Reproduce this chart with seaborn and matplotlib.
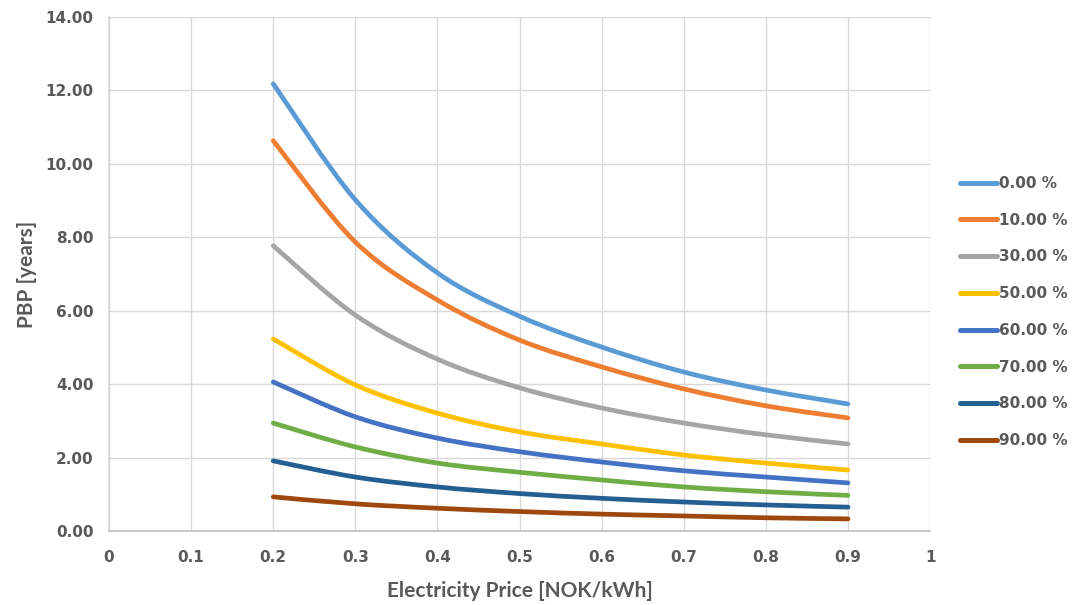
import numpy as np
import pandas as pd
import matplotlib
matplotlib.use("Agg")
import matplotlib.pyplot as plt
from matplotlib.path import Path
from matplotlib.patches import PathPatch
import seaborn as sns

# Electricity price [NOK/kWh]
price = [0.2, 0.3, 0.4, 0.5, 0.6, 0.7, 0.8, 0.9]

# Payback period [years] for each subsidy level
pbp_0 = [12.18, 9.02, 7.03, 5.85, 5.01, 4.33, 3.84, 3.46]
pbp_10 = [10.63, 7.87, 6.29, 5.20, 4.47, 3.87, 3.41, 3.08]
pbp_30 = [7.77, 5.88, 4.68, 3.90, 3.35, 2.94, 2.62, 2.37]
pbp_50 = [5.23, 3.98, 3.21, 2.70, 2.37, 2.07, 1.85, 1.66]
pbp_60 = [4.06, 3.11, 2.53, 2.16, 1.88, 1.64, 1.47, 1.31]
pbp_70 = [2.94, 2.29, 1.85, 1.60, 1.39, 1.20, 1.07, 0.97]
pbp_80 = [1.91, 1.47, 1.20, 1.02, 0.89, 0.79, 0.71, 0.65]
pbp_90 = [0.93, 0.74, 0.62, 0.53, 0.46, 0.41, 0.36, 0.33]

labels = ["0.00 %", "10.00 %", "30.00 %", "50.00 %", "60.00 %", "70.00 %", "80.00 %", "90.00 %"]
series = [pbp_0, pbp_10, pbp_30, pbp_50, pbp_60, pbp_70, pbp_80, pbp_90]
colors = ["#5B9BD5", "#ED7D31", "#A5A5A5", "#FFC000", "#4472C4", "#70AD47", "#255E91", "#9E480E"]

x_ticks = [0, 0.1, 0.2, 0.3, 0.4, 0.5, 0.6, 0.7, 0.8, 0.9, 1]
x_tick_labels = ["0", "0.1", "0.2", "0.3", "0.4", "0.5", "0.6", "0.7", "0.8", "0.9", "1"]
y_ticks = [0, 2, 4, 6, 8, 10, 12, 14]

df = pd.DataFrame({
    "price": np.tile(price, len(series)),
    "pbp": np.concatenate(series),
    "subsidy": np.repeat(labels, len(price)),
})

sns.set_theme(style="white")
plt.rcParams["font.family"] = ["DejaVu Sans"]
text_color = "#595959"
label_font = ["Lato", "DejaVu Sans"]
line_width = 3.4

fig = plt.figure(figsize=(10.74, 6.05), dpi=100)
ax = fig.add_axes([0.1015, 0.1223, 0.7645, 0.8497])

sns.lineplot(data=df, x="price", y="pbp", hue="subsidy", hue_order=labels,
             palette=colors, linewidth=line_width, ax=ax, legend=True)


def smooth_path(xs, ys):
    """Bezier path through the points, with Catmull-Rom style tangents."""
    pts = np.column_stack([xs, ys])
    n = len(pts)
    verts = [pts[0]]
    codes = [Path.MOVETO]
    for i in range(n - 1):
        p0 = pts[i - 1] if i > 0 else pts[i]
        p1 = pts[i]
        p2 = pts[i + 1]
        p3 = pts[i + 2] if i + 2 < n else pts[i + 1]
        c1 = p1 + (p2 - p0) / 6.0
        c2 = p2 - (p3 - p1) / 6.0
        verts += [c1, c2, p2]
        codes += [Path.CURVE4] * 3
    return Path(verts, codes)


# Replace straight segments with smooth curves through the same points
for line, color in zip(ax.get_lines()[:len(series)], colors):
    xy = line.get_xydata()
    line.set_visible(False)
    patch = PathPatch(smooth_path(xy[:, 0], xy[:, 1]), facecolor="none",
                      edgecolor=color, linewidth=line_width, capstyle="round", zorder=3)
    ax.add_patch(patch)

ax.set_xlim(0, 1)
ax.set_ylim(0, 14)
ax.set_xticks(x_ticks)
ax.set_xticklabels(x_tick_labels)
ax.set_yticks(y_ticks)
ax.set_yticklabels([f"{v:.2f}" for v in y_ticks])
ax.grid(True, color="#D9D9D9", linewidth=1)
ax.set_axisbelow(True)
for side in ["top", "right"]:
    ax.spines[side].set_visible(False)
ax.spines["left"].set_color("#D9D9D9")
ax.spines["bottom"].set_color("#BFBFBF")
ax.tick_params(axis="both", length=0, colors=text_color, labelsize=11)
ax.tick_params(axis="x", pad=14)
ax.tick_params(axis="y", pad=11)
for lab in ax.get_xticklabels() + ax.get_yticklabels():
    lab.set_fontweight("bold")

ax.set_xlabel("Electricity Price [NOK/kWh]", fontsize=15, color=text_color,
              family=label_font, fontweight="bold", labelpad=11)
ax.set_ylabel("PBP [years]", fontsize=15, color=text_color,
              family=label_font, fontweight="bold", labelpad=6)

handles, leg_labels = ax.get_legend_handles_labels()
for h in handles:
    h.set_linewidth(3.6)
leg = ax.legend(handles, leg_labels, loc="center left", bbox_to_anchor=(1.029, 0.426),
                frameon=False, handlelength=2.45, handletextpad=0.1,
                labelspacing=1.42, borderaxespad=0, fontsize=11)
for t in leg.get_texts():
    t.set_color(text_color)
    t.set_fontweight("bold")

fig.savefig("out.png", dpi=100, facecolor="white")
